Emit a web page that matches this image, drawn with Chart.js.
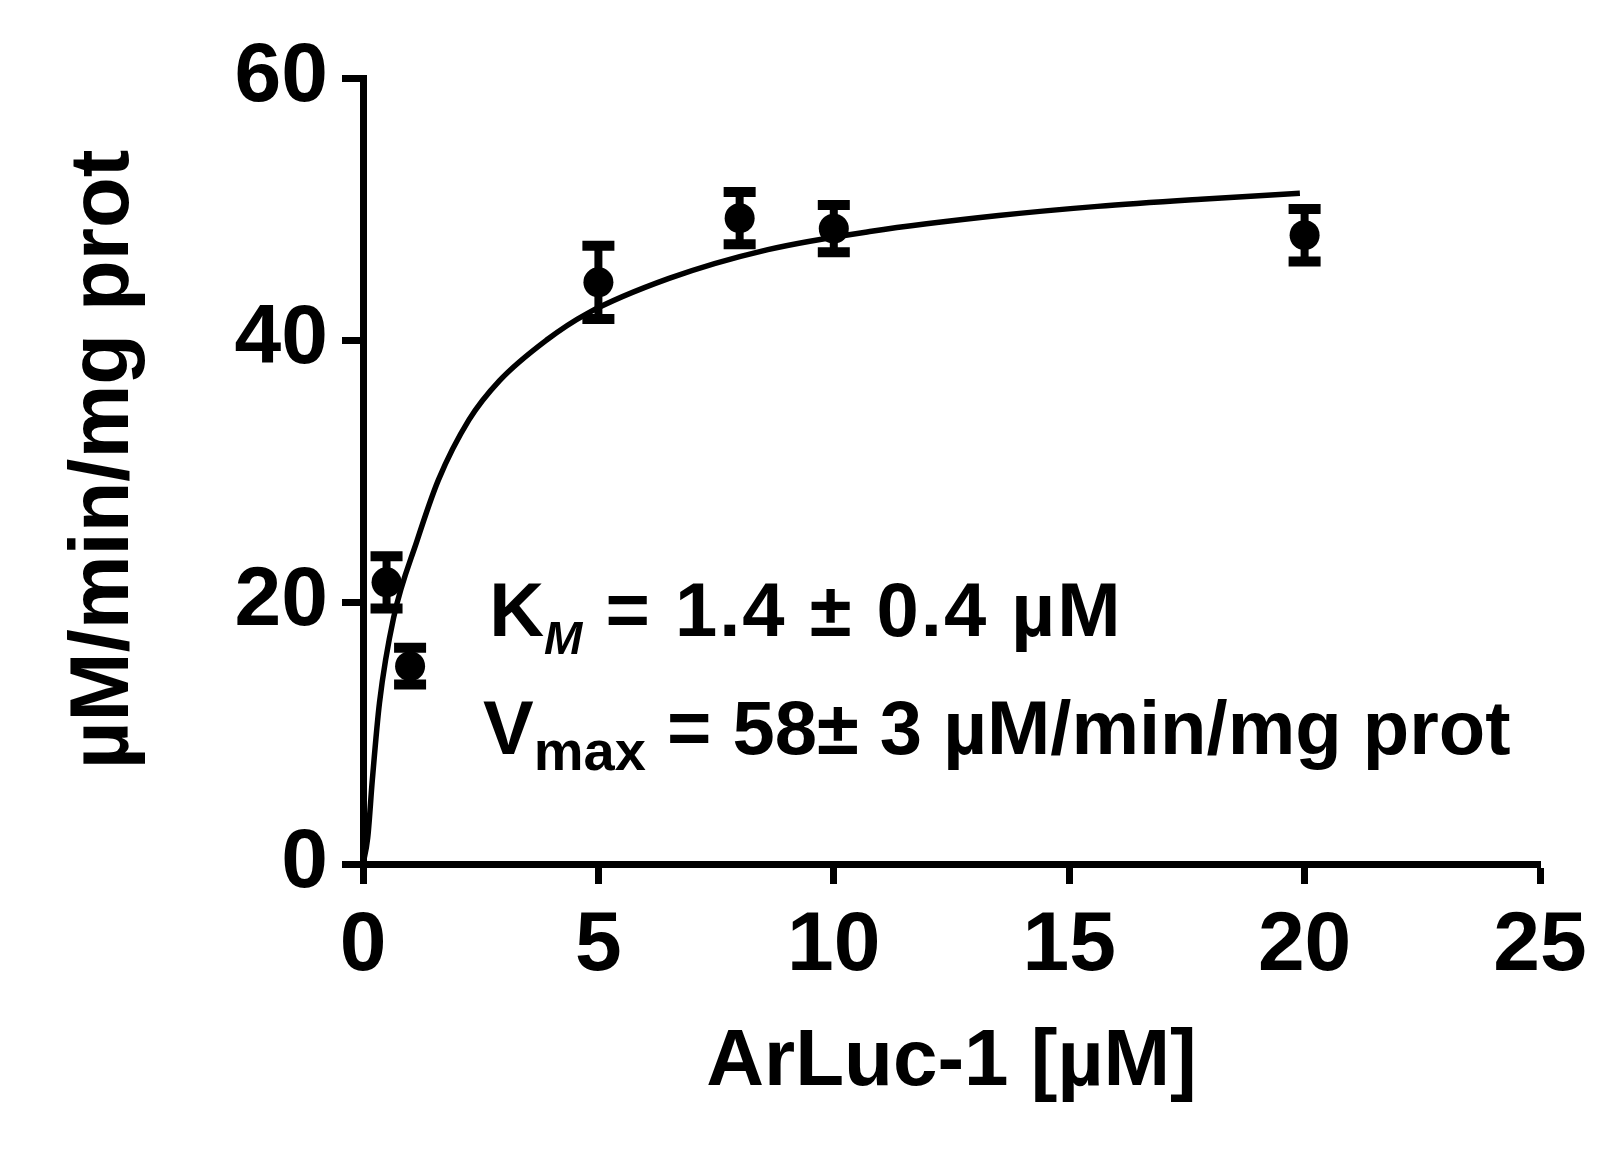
<!DOCTYPE html>
<html>
<head>
<meta charset="utf-8">
<title>ArLuc-1</title>
<script src="https://cdn.jsdelivr.net/npm/chart.js@4.4.1/dist/chart.umd.min.js"></script>
<style>
  body { margin: 0; background: #fff; }
  canvas { display: block; }
</style>
</head>
<body>
<canvas id="graficoCinetica" width="1615" height="1164"></canvas>
<script>
// puntos medidos (media ± error)
const concentraciones = [0.5, 1, 5, 8, 10, 20];
const velocidades = [21.5, 15.1, 44.4, 49.3, 48.5, 48.0];
const errores = [2.0, 1.4, 2.8, 2.0, 1.8, 2.0];

// curva ajustada
const curvaX = [0, 0.1, 0.2, 0.35, 0.65, 1.15, 1.6, 2.25, 2.9, 3.9, 4.75, 6.5, 8.6, 10.8, 13.5, 15.6, 17.8, 19.9];
const curvaY = [0, 2, 6.5, 12.3, 18.8, 24.7, 29.3, 33.9, 36.9, 40.0, 42.0, 44.7, 46.9, 48.3, 49.5, 50.2, 50.75, 51.2];

const ticksX = [0, 5, 10, 15, 20, 25];
const ticksY = [0, 20, 40, 60];

const fuente = '"Liberation Sans", Arial, sans-serif';

const barrasError = {
  id: 'barrasError',
  afterDatasetsDraw(chart) {
    const { ctx, scales: { x, y } } = chart;
    ctx.save();
    ctx.strokeStyle = '#000';
    concentraciones.forEach((c, i) => {
      const px = x.getPixelForValue(c);
      const arriba = y.getPixelForValue(velocidades[i] + errores[i]);
      const abajo = y.getPixelForValue(velocidades[i] - errores[i]);
      ctx.lineWidth = 8;
      ctx.beginPath();
      ctx.moveTo(px, arriba);
      ctx.lineTo(px, abajo);
      ctx.stroke();
      ctx.lineWidth = 10;
      ctx.beginPath();
      ctx.moveTo(px - 16, arriba);
      ctx.lineTo(px + 16, arriba);
      ctx.moveTo(px - 16, abajo);
      ctx.lineTo(px + 16, abajo);
      ctx.stroke();
    });
    ctx.restore();
  }
};

function escribirLinea(ctx, partes, x, base) {
  partes.forEach(p => {
    ctx.font = p.font;
    ctx.letterSpacing = p.espacio || '0px';
    ctx.fillText(p.texto, x, base + (p.dy || 0));
    x += ctx.measureText(p.texto).width;
  });
}

const anotaciones = {
  id: 'anotaciones',
  afterDraw(chart) {
    const { ctx, scales: { x, y } } = chart;
    ctx.save();
    ctx.fillStyle = '#000';
    ctx.textBaseline = 'alphabetic';
    ctx.textAlign = 'left';
    escribirLinea(ctx, [
      { texto: 'K', font: 'bold 76px ' + fuente },
      { texto: 'M', font: 'italic bold 46px ' + fuente, dy: 18 },
      { texto: ' = 1.4 \u00b1 0.4 \u00b5M', font: 'bold 76px ' + fuente, espacio: '2px' }
    ], x.getPixelForValue(2.68), y.getPixelForValue(17.4));
    escribirLinea(ctx, [
      { texto: 'V', font: 'bold 76px ' + fuente },
      { texto: 'max', font: 'bold 56px ' + fuente, dy: 16 },
      { texto: ' = 58\u00b1 3 \u00b5M/min/mg prot', font: 'bold 76px ' + fuente }
    ], x.getPixelForValue(2.55), y.getPixelForValue(8.4));
    ctx.restore();
  }
};

function crearGrafico() {
  const ctx = document.getElementById('graficoCinetica').getContext('2d');

  new Chart(ctx, {
    type: 'scatter',
    data: {
      datasets: [
        {
          label: 'medidas',
          data: concentraciones.map((c, i) => ({ x: c, y: velocidades[i] })),
          pointRadius: 15,
          pointHoverRadius: 15,
          backgroundColor: '#000',
          borderWidth: 0
        },
        {
          label: 'ajuste',
          type: 'line',
          data: curvaX.map((c, i) => ({ x: c, y: curvaY[i] })),
          borderColor: '#000',
          borderWidth: 5.5,
          pointRadius: 0,
          fill: false,
          cubicInterpolationMode: 'monotone'
        }
      ]
    },
    options: {
      responsive: false,
      animation: false,
      layout: { padding: { top: 78, right: 75, bottom: 0, left: 0 } },
      plugins: {
        legend: { display: false },
        tooltip: { enabled: false }
      },
      scales: {
        x: {
          type: 'linear',
          min: 0,
          max: 25,
          afterFit: s => { s.height = 300; },
          afterBuildTicks: s => { s.ticks = ticksX.map(v => ({ value: v })); },
          border: { display: true, width: 7, color: '#000' },
          grid: { drawOnChartArea: false, tickLength: 20, tickWidth: 7, color: '#000' },
          ticks: { color: '#000', padding: 12, font: { family: fuente, size: 84, weight: 'bold' } },
          title: {
            display: true,
            text: 'ArLuc-1 [\u00b5M]',
            color: '#000',
            font: { family: fuente, size: 80, weight: 'bold' },
            padding: { top: 0, bottom: 53 }
          }
        },
        y: {
          min: 0,
          max: 60,
          afterFit: s => { s.width = 363; },
          afterBuildTicks: s => { s.ticks = ticksY.map(v => ({ value: v })); },
          border: { display: true, width: 7, color: '#000' },
          grid: { drawOnChartArea: false, tickLength: 21, tickWidth: 7, color: '#000' },
          ticks: { color: '#000', padding: 14, font: { family: fuente, size: 84, weight: 'bold' } },
          title: {
            display: true,
            text: ' \u00b5M/min/mg prot',
            color: '#000',
            font: { family: fuente, size: 83, weight: 'bold' },
            padding: { top: 55, bottom: 0 }
          }
        }
      }
    },
    plugins: [barrasError, anotaciones]
  });
}

document.addEventListener('DOMContentLoaded', () => {
  crearGrafico();
});
</script>
</body>
</html>
